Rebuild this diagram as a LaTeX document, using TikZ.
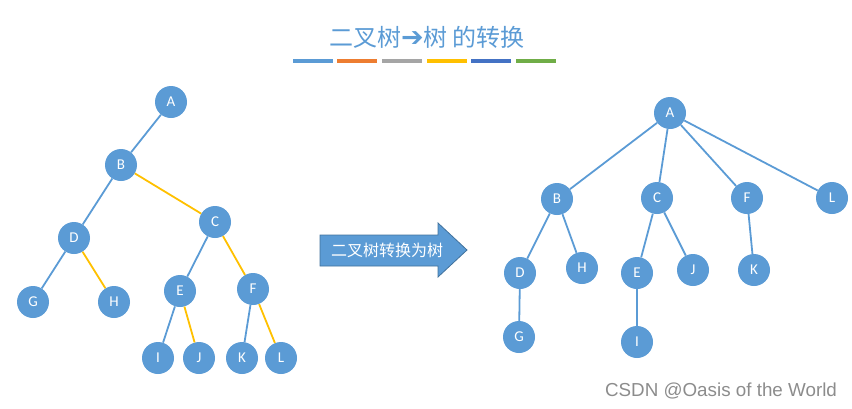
\documentclass[tikz,border=0pt]{standalone}
\usepackage{fontspec}
\setmainfont{Carlito}
\newfontfamily\cjk{Noto Sans CJK SC}
\newfontfamily\symfont{DejaVu Sans}
\newfontfamily\markfont{Liberation Sans}
\usepackage{tikz}

\definecolor{nodeblue}{HTML}{5B9BD5}
\definecolor{edgeblue}{HTML}{5B9BD5}
\definecolor{edgegold}{HTML}{FFC000}
\definecolor{arrowrim}{HTML}{41719C}

\begin{document}
\begin{tikzpicture}[x=1pt, y=-1pt,
	vertex/.style={circle, fill=nodeblue, text=white, minimum size=32pt, inner sep=0pt, font=\fontsize{15}{17}\selectfont},
	lchild/.style={draw=edgeblue, line width=1.8pt},
	rsib/.style={draw=edgegold, line width=1.8pt},
	bar/.style={minimum width=40pt, minimum height=3.5pt, inner sep=0pt}]
	\useasboundingbox (0,0) rectangle (852,408);
	\node[text=nodeblue, font=\fontsize{24}{28}\selectfont] (title) at (427,37) {\cjk 二叉树{\symfont\fontsize{27}{28}\selectfont ➔}树 的转换};
	\node[bar, fill={rgb,255:red,91;green,155;blue,213}] (bar1) at (313,61) {};
	\node[bar, fill={rgb,255:red,237;green,125;blue,49}] (bar2) at (357,61) {};
	\node[bar, fill={rgb,255:red,165;green,165;blue,165}] (bar3) at (402,61) {};
	\node[bar, fill={rgb,255:red,255;green,192;blue,0}] (bar4) at (447,61) {};
	\node[bar, fill={rgb,255:red,68;green,114;blue,196}] (bar5) at (491,61) {};
	\node[bar, fill={rgb,255:red,112;green,173;blue,71}] (bar6) at (536,61) {};

	\node[vertex] (bA) at (171,102) {A};
	\node[vertex] (bB) at (121,165) {B};
	\node[vertex] (bC) at (215,222) {C};
	\node[vertex] (bD) at (74,238) {D};
	\node[vertex] (bE) at (180,291) {E};
	\node[vertex] (bF) at (253,289) {F};
	\node[vertex] (bG) at (33,302) {G};
	\node[vertex] (bH) at (114,302) {H};
	\node[vertex] (bI) at (158,358) {I};
	\node[vertex] (bJ) at (199,358) {J};
	\node[vertex] (bK) at (242,358) {K};
	\node[vertex] (bL) at (281,358) {L};
	\draw[lchild] (bA) -- (bB);
	\draw[lchild] (bB) -- (bD);
	\draw[rsib] (bB) -- (bC);
	\draw[lchild] (bC) -- (bE);
	\draw[rsib] (bC) -- (bF);
	\draw[lchild] (bD) -- (bG);
	\draw[rsib] (bD) -- (bH);
	\draw[lchild] (bE) -- (bI);
	\draw[rsib] (bE) -- (bJ);
	\draw[lchild] (bF) -- (bK);
	\draw[rsib] (bF) -- (bL);

	\draw[fill=nodeblue, draw=arrowrim, line width=0.8pt] (320,235) -- (438,235) -- (438,223) -- (467,250) -- (438,277) -- (438,266) -- (320,266) -- cycle;
	\node[text=white, font=\fontsize{16}{18}\selectfont] (conv) at (387,250.5) {\cjk 二叉树转换为树};

	\node[vertex] (tA) at (670,113) {A};
	\node[vertex] (tB) at (557,199) {B};
	\node[vertex] (tC) at (657,198) {C};
	\node[vertex] (tF) at (747,198) {F};
	\node[vertex] (tL) at (832,198) {L};
	\node[vertex] (tD) at (520,273) {D};
	\node[vertex] (tH) at (582,268) {H};
	\node[vertex] (tE) at (637,273) {E};
	\node[vertex] (tJ) at (693,270) {J};
	\node[vertex] (tK) at (754,270) {K};
	\node[vertex] (tG) at (519,337) {G};
	\node[vertex] (tI) at (637,342) {I};
	\foreach \p/\c in {tA/tB, tA/tC, tA/tF, tA/tL, tB/tD, tB/tH, tC/tE, tC/tJ, tF/tK, tD/tG, tE/tI}
		\draw[lchild] (\p) -- (\c);

	\node[text=black!45, font=\markfont\fontsize{18.8}{22}\selectfont] (mark) at (721,391) {CSDN @Oasis of the World};
\end{tikzpicture}
\end{document}
